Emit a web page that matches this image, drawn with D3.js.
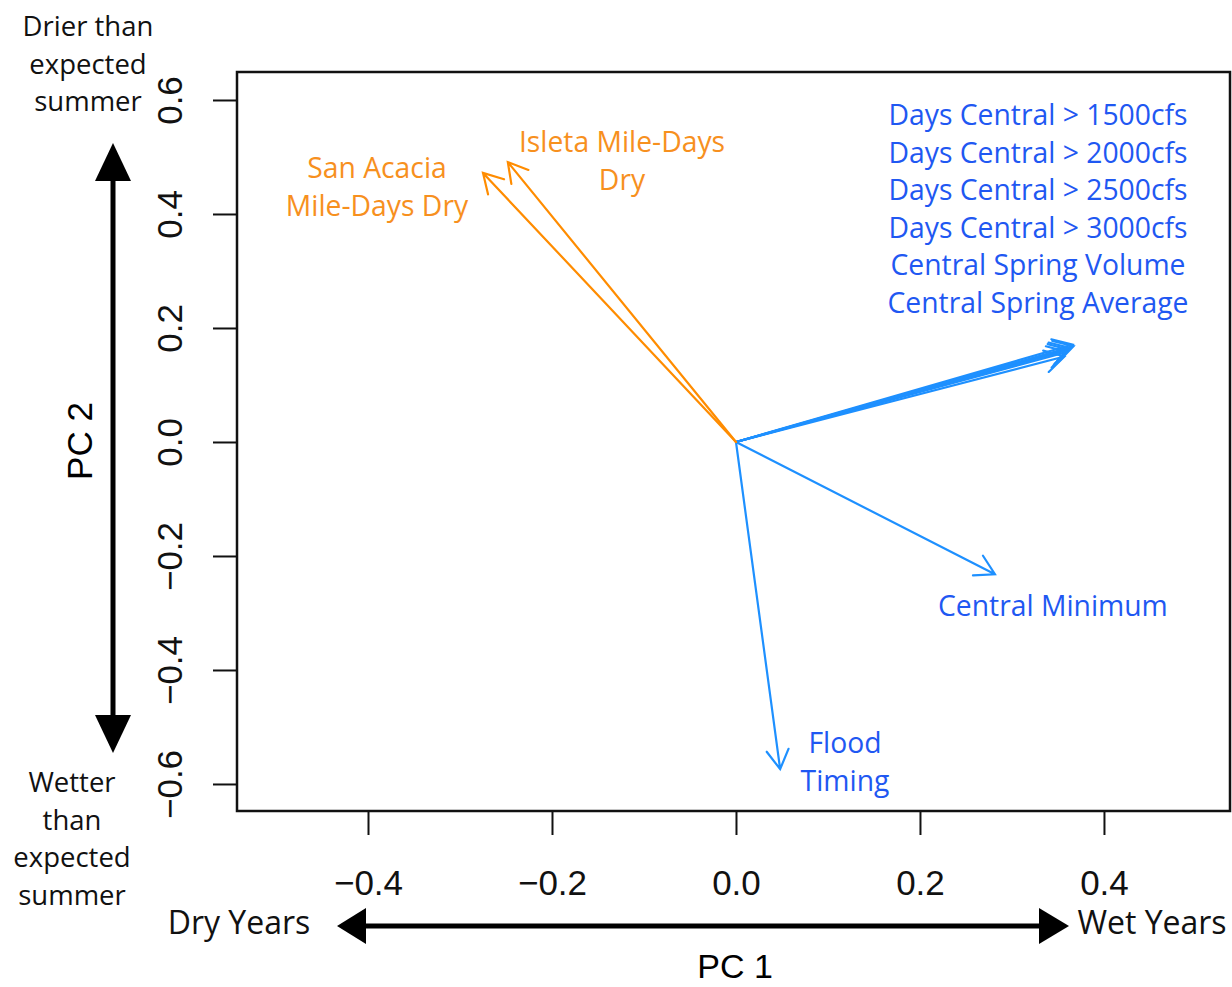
<!DOCTYPE html>
<html>
<head>
<meta charset="utf-8">
<script src="https://cdn.jsdelivr.net/npm/d3@7"></script>
<style>
  body { margin: 0; background: #fff; }
  svg { display: block; }
</style>
</head>
<body>
<div id="biplot"></div>
<script>
var vWidth = 1232;
var vHeight = 987;

// PCA loadings (PC1, PC2)
var varNames = ["Days Central > 1500cfs", "Days Central > 2000cfs", "Days Central > 2500cfs",
                "Days Central > 3000cfs", "Central Spring Volume", "Central Spring Average",
                "Central Minimum", "Flood Timing", "Isleta Mile-Days Dry", "San Acacia Mile-Days Dry"];
var pc1 = [0.366, 0.363, 0.360, 0.357, 0.362, 0.367, 0.2815, 0.048, -0.248, -0.275];
var pc2 = [0.171, 0.165, 0.158, 0.150, 0.162, 0.168, -0.232, -0.574, 0.491, 0.472];
var varGroup = ["flow", "flow", "flow", "flow", "flow", "flow", "flow", "flow", "dry", "dry"];

var xTicks = [-0.4, -0.2, 0.0, 0.2, 0.4];
var yTicks = [-0.6, -0.4, -0.2, 0.0, 0.2, 0.4, 0.6];

var arrowColor = { flow: "#1E90FF", dry: "#FF8C00" };
var labelColor = { flow: "#1F58F2", dry: "#F7901E" };

var svg = d3.select("#biplot")
            .append("svg")
            .attr("width", vWidth)
            .attr("height", vHeight);

// plot region
var box = { left: 237, right: 1230, top: 72, bottom: 811 };

var x = d3.scaleLinear().domain([-0.5424, 0.5370]).range([box.left, box.right]);
var y = d3.scaleLinear().domain([-0.6474, 0.6491]).range([box.bottom, box.top]);

var fmt = function (d) { return d3.format(".1f")(d).replace("-", "\u2212"); };

// x axis
var xAxis = svg.append("g")
    .attr("transform", "translate(0," + box.bottom + ")")
    .call(d3.axisBottom(x).tickValues(xTicks).tickSize(24).tickPadding(35).tickFormat(fmt));
xAxis.select(".domain").remove();
xAxis.selectAll("line").attr("stroke", "#111").attr("stroke-width", 2);
xAxis.selectAll("text")
    .attr("font-family", "'Liberation Sans', Arial, sans-serif")
    .attr("font-size", 35)
    .attr("fill", "#111");

// y axis, labels parallel to the axis
var yAxis = svg.append("g")
    .attr("transform", "translate(" + box.left + ",0)")
    .call(d3.axisLeft(y).tickValues(yTicks).tickSize(24).tickFormat(fmt));
yAxis.select(".domain").remove();
yAxis.selectAll("line").attr("stroke", "#111").attr("stroke-width", 2);
yAxis.selectAll("text")
    .attr("x", null)
    .attr("dy", "0.35em")
    .attr("text-anchor", "middle")
    .attr("transform", "translate(-67,0) rotate(-90)")
    .attr("font-family", "'Liberation Sans', Arial, sans-serif")
    .attr("font-size", 35)
    .attr("fill", "#111");

// frame
svg.append("rect")
    .attr("x", box.left).attr("y", box.top)
    .attr("width", box.right - box.left).attr("height", box.bottom - box.top)
    .attr("fill", "none").attr("stroke", "#111").attr("stroke-width", 2.5);

// axis titles
svg.append("text")
    .attr("x", 735).attr("y", 978)
    .attr("text-anchor", "middle")
    .attr("font-family", "'Liberation Sans', Arial, sans-serif")
    .attr("font-size", 34)
    .text("PC 1");

svg.append("text")
    .attr("transform", "translate(92,441) rotate(-90)")
    .attr("text-anchor", "middle")
    .attr("font-family", "'Liberation Sans', Arial, sans-serif")
    .attr("font-size", 35)
    .text("PC 2");

// loading arrows
var ox = x(0), oy = y(0);
var headLen = 22, headAng = Math.PI / 6;
var vecs = svg.append("g").attr("fill", "none").attr("stroke-width", 2.2).attr("stroke-linecap", "round");

varNames.forEach(function (name, i) {
    var tx = x(pc1[i]), ty = y(pc2[i]);
    var a = Math.atan2(ty - oy, tx - ox);
    var h1x = tx - headLen * Math.cos(a - headAng), h1y = ty - headLen * Math.sin(a - headAng);
    var h2x = tx - headLen * Math.cos(a + headAng), h2y = ty - headLen * Math.sin(a + headAng);
    vecs.append("path")
        .attr("d", "M" + ox + "," + oy + "L" + tx + "," + ty +
                   "M" + h1x + "," + h1y + "L" + tx + "," + ty + "L" + h2x + "," + h2y)
        .attr("stroke", arrowColor[varGroup[i]]);
});

// annotation labels (placed as in the figure)
var labelFont = "'Open Sans', 'Noto Sans', sans-serif";
var labels = [
    { lines: ["Days Central > 1500cfs", "Days Central > 2000cfs", "Days Central > 2500cfs",
              "Days Central > 3000cfs", "Central Spring Volume", "Central Spring Average"],
      g: "flow", x: 1038, y: 125, step: 37.6, anchor: "middle" },
    { lines: ["Central Minimum"], g: "flow", x: 938, y: 616, step: 0, anchor: "start" },
    { lines: ["Flood", "Timing"], g: "flow", x: 845, y: 753, step: 38, anchor: "middle" },
    { lines: ["Isleta Mile-Days", "Dry"], g: "dry", x: 622, y: 152, step: 37.5, anchor: "middle" },
    { lines: ["San Acacia", "Mile-Days Dry"], g: "dry", x: 377, y: 178, step: 38, anchor: "middle" }
];

labels.forEach(function (l) {
    var t = svg.append("text")
        .attr("font-family", labelFont)
        .attr("font-size", 28.3)
        .attr("fill", labelColor[l.g])
        .attr("text-anchor", l.anchor);
    l.lines.forEach(function (s, k) {
        t.append("tspan").attr("x", l.x).attr("y", l.y + k * l.step).text(s);
    });
});

// direction notes around the axes
var notes = [
    { lines: ["Drier than", "expected", "summer"], x: 88, y: 36, step: 37.5, size: 27.5 },
    { lines: ["Wetter", "than", "expected", "summer"], x: 72, y: 792, step: 37.7, size: 27.5 },
    { lines: ["Dry Years"], x: 239, y: 934, step: 0, size: 32 },
    { lines: ["Wet Years"], x: 1152, y: 934, step: 0, size: 32 }
];
notes.forEach(function (n) {
    var t = svg.append("text")
        .attr("font-family", labelFont)
        .attr("font-size", n.size)
        .attr("fill", "#111")
        .attr("text-anchor", "middle");
    n.lines.forEach(function (s, k) {
        t.append("tspan").attr("x", n.x).attr("y", n.y + k * n.step).text(s);
    });
});

// big black direction arrows
var dir = svg.append("g").attr("fill", "#000").attr("stroke", "#000");
// vertical
dir.append("line").attr("x1", 113).attr("x2", 113).attr("y1", 175).attr("y2", 720).attr("stroke-width", 5);
dir.append("path").attr("d", "M113,143L131,181L95,181Z").attr("stroke", "none");
dir.append("path").attr("d", "M113,753L131,715L95,715Z").attr("stroke", "none");
// horizontal
dir.append("line").attr("y1", 926).attr("y2", 926).attr("x1", 360).attr("x2", 1045).attr("stroke-width", 5);
dir.append("path").attr("d", "M337,926L366,908L366,944Z").attr("stroke", "none");
dir.append("path").attr("d", "M1069,926L1039,908L1039,944Z").attr("stroke", "none");
</script>
</body>
</html>
